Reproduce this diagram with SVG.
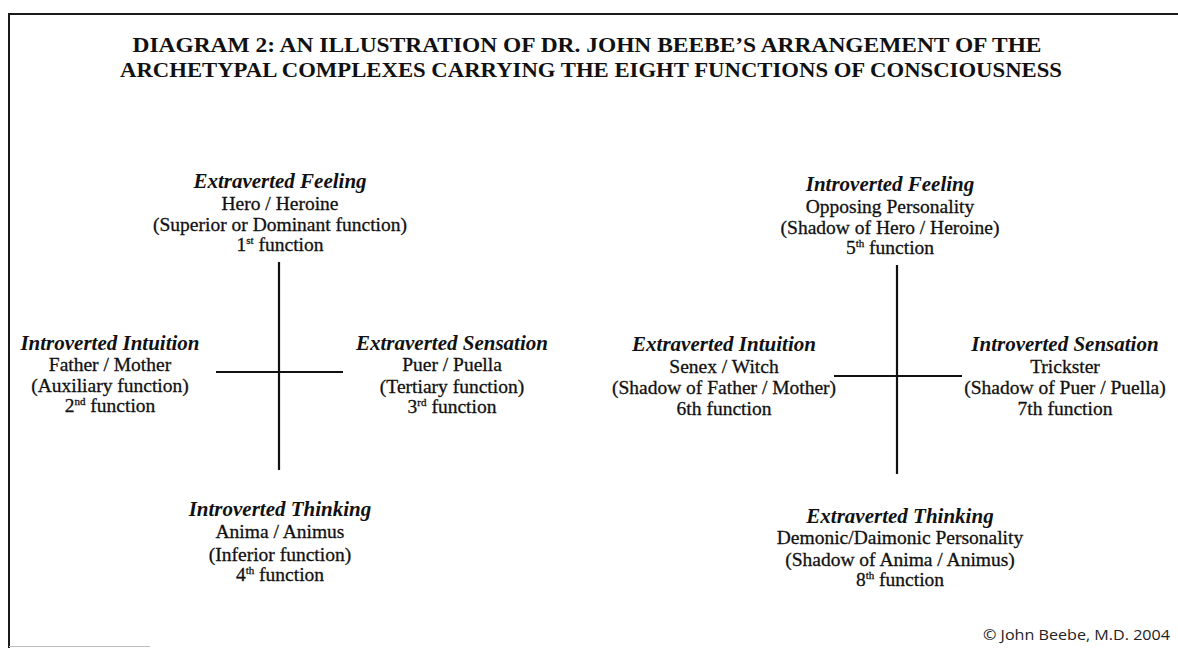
<svg xmlns="http://www.w3.org/2000/svg" width="1178" height="648" viewBox="0 0 1178 648">
<style>
.t { font-family: "Liberation Serif", "Times New Roman", serif; font-weight: bold; font-size: 22px; fill: #111; text-anchor: middle; }
.h { font-family: "Liberation Serif", "Times New Roman", serif; font-style: italic; font-weight: bold; font-size: 21px; fill: #111; text-anchor: middle; }
.b { font-family: "Liberation Serif", "Times New Roman", serif; font-size: 19.5px; fill: #111; stroke: #111; stroke-width: 0.3; text-anchor: middle; }
.sup { font-size: 11px; }
.c { font-family: "Open Sans", "Liberation Sans", sans-serif; font-size: 15px; fill: #222; text-anchor: end; }
.frame { stroke: #1a1a1a; stroke-width: 2; fill: none; }
.axis { stroke: #111; stroke-width: 2.2; fill: none; }
</style>
<rect width="1178" height="648" fill="#ffffff"/>
<g id="frame">
  <line class="frame" x1="9" y1="14" x2="1178" y2="14"/>
  <line class="frame" x1="9" y1="13" x2="9" y2="648"/>
  <line x1="9" y1="646.5" x2="150" y2="646.5" stroke="#bbbbbb" stroke-width="1.2"/>
</g>
<g id="title">
  <text class="t" x="587" y="52" textLength="909" lengthAdjust="spacingAndGlyphs">DIAGRAM 2: AN ILLUSTRATION OF DR. JOHN BEEBE’S ARRANGEMENT OF THE</text>
  <text class="t" x="591" y="77" textLength="942" lengthAdjust="spacingAndGlyphs">ARCHETYPAL COMPLEXES CARRYING THE EIGHT FUNCTIONS OF CONSCIOUSNESS</text>
</g>
<g id="connectors">
  <line class="axis" x1="279" y1="262" x2="279" y2="470"/>
  <line class="axis" x1="216" y1="372" x2="343" y2="372"/>
  <line class="axis" x1="897" y1="265" x2="897" y2="474"/>
  <line class="axis" x1="834" y1="376" x2="962" y2="376"/>
</g>
<g id="extraverted-feeling">
  <text class="h" x="280" y="188">Extraverted Feeling</text>
  <text class="b" x="280" y="210">Hero / Heroine</text>
  <text class="b" x="280" y="231">(Superior or Dominant function)</text>
  <text class="b" x="280" y="251">1<tspan class="sup" dy="-7">st</tspan><tspan dy="7"> function</tspan></text>
</g>
<g id="introverted-intuition">
  <text class="h" x="110" y="350">Introverted Intuition</text>
  <text class="b" x="110" y="371">Father / Mother</text>
  <text class="b" x="110" y="392">(Auxiliary function)</text>
  <text class="b" x="110" y="412">2<tspan class="sup" dy="-7">nd</tspan><tspan dy="7"> function</tspan></text>
</g>
<g id="extraverted-sensation">
  <text class="h" x="452" y="350">Extraverted Sensation</text>
  <text class="b" x="452" y="371">Puer / Puella</text>
  <text class="b" x="452" y="393">(Tertiary function)</text>
  <text class="b" x="452" y="413">3<tspan class="sup" dy="-7">rd</tspan><tspan dy="7"> function</tspan></text>
</g>
<g id="introverted-thinking">
  <text class="h" x="280" y="516">Introverted Thinking</text>
  <text class="b" x="280" y="538">Anima / Animus</text>
  <text class="b" x="280" y="561">(Inferior function)</text>
  <text class="b" x="280" y="581">4<tspan class="sup" dy="-7">th</tspan><tspan dy="7"> function</tspan></text>
</g>
<g id="introverted-feeling">
  <text class="h" x="890" y="191">Introverted Feeling</text>
  <text class="b" x="890" y="213">Opposing Personality</text>
  <text class="b" x="890" y="234">(Shadow of Hero / Heroine)</text>
  <text class="b" x="890" y="254">5<tspan class="sup" dy="-7">th</tspan><tspan dy="7"> function</tspan></text>
</g>
<g id="extraverted-intuition">
  <text class="h" x="724" y="351">Extraverted Intuition</text>
  <text class="b" x="724" y="373">Senex / Witch</text>
  <text class="b" x="724" y="394">(Shadow of Father / Mother)</text>
  <text class="b" x="724" y="415">6th function</text>
</g>
<g id="introverted-sensation">
  <text class="h" x="1065" y="351">Introverted Sensation</text>
  <text class="b" x="1065" y="373">Trickster</text>
  <text class="b" x="1065" y="394">(Shadow of Puer / Puella)</text>
  <text class="b" x="1065" y="415">7th function</text>
</g>
<g id="extraverted-thinking">
  <text class="h" x="900" y="523">Extraverted Thinking</text>
  <text class="b" x="900" y="544">Demonic/Daimonic Personality</text>
  <text class="b" x="900" y="566">(Shadow of Anima / Animus)</text>
  <text class="b" x="900" y="586">8<tspan class="sup" dy="-7">th</tspan><tspan dy="7"> function</tspan></text>
</g>
<g id="copyright">
  <text class="c" x="1170" y="640" textLength="187" lengthAdjust="spacingAndGlyphs">© John Beebe, M.D. 2004</text>
</g>
</svg>
